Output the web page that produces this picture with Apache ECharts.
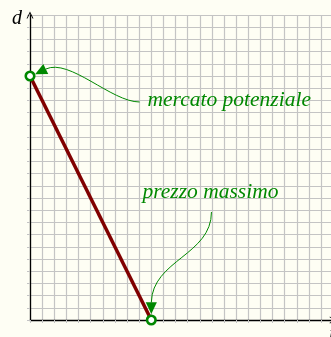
<!DOCTYPE html>
<html>
<head>
<meta charset="utf-8">
<script src="https://cdn.jsdelivr.net/npm/echarts@6/dist/echarts.min.js"></script>
<style>
  html, body { margin: 0; padding: 0; background: #fefef4; }
  #chart { width: 331px; height: 337px; }
</style>
</head>
<body>
<div id="chart"></div>
<script>
// Linear demand: quantity d falls from the potential market to zero at the maximum price
const priceValues = [0, 10];
const demandValues = [20, 0];
const axisMax = 25;
const axisNames = ['p', 'd'];
const noteTexts = ['mercato potenziale', 'prezzo massimo'];

const GREEN = '#008800';
const GRID_GRAY = '#c4c4c4';
const SERIF = '"Liberation Serif", "DejaVu Serif", serif';

// Callout geometry in axis units: bezier from the label towards the point, arrow tip, label anchor
const notes = [
  {
    curve: [[9.03, 17.87], [6.72, 17.87], [3.26, 21.48], [1.3, 20.57]],
    tip: [0.42, 20.14],
    label: [9.69, 18.0]
  },
  {
    curve: [[14.96, 8.85], [14.96, 5.33], [10.1, 4.92], [10.0, 1.45]],
    tip: [10.0, 0.5],
    label: [9.27, 10.45]
  }
];

const arrowPath = 'path://M0,10 L5,0 L10,10 L8.6,10 L5,2.8 L1.4,10 Z';

const chart = echarts.init(document.getElementById('chart'), null, { renderer: 'canvas' });

function renderNote(params, api) {
  const n = notes[params.dataIndex];
  const p = n.curve.map(c => api.coord(c));
  const tip = api.coord(n.tip);
  const base = p[3];
  const dx = tip[0] - base[0], dy = tip[1] - base[1];
  const len = Math.sqrt(dx * dx + dy * dy) || 1;
  const nx = -dy / len, ny = dx / len;
  const hw = 5.6;
  const lab = api.coord(n.label);
  return {
    type: 'group',
    children: [
      {
        type: 'bezierCurve',
        shape: { x1: p[0][0], y1: p[0][1], cpx1: p[1][0], cpy1: p[1][1], cpx2: p[2][0], cpy2: p[2][1], x2: p[3][0], y2: p[3][1] },
        style: { stroke: GREEN, lineWidth: 1, fill: null }
      },
      {
        type: 'polygon',
        shape: { points: [tip, [base[0] + nx * hw, base[1] + ny * hw], [base[0] - nx * hw, base[1] - ny * hw]] },
        style: { fill: GREEN }
      },
      {
        type: 'text',
        x: lab[0], y: lab[1],
        style: {
          text: noteTexts[params.dataIndex],
          fill: GREEN,
          font: 'italic 21.5px ' + SERIF,
          align: 'left',
          verticalAlign: 'middle'
        }
      }
    ]
  };
}

const option = {
  animation: false,
  backgroundColor: '#fefef4',
  grid: { left: 30, top: 15, width: 303.25, height: 305, containLabel: false, outerBoundsMode: 'none' },
  xAxis: {
    type: 'value', min: 0, max: axisMax, interval: 1,
    name: axisNames[0], nameLocation: 'end', nameGap: -4,
    nameTextStyle: { fontFamily: SERIF, fontStyle: 'italic', fontSize: 19, color: '#000', align: 'left', verticalAlign: 'top', padding: [4, 0, 0, 0] },
    axisLine: { show: true, onZero: false, symbol: ['none', arrowPath], symbolSize: [7, 8], lineStyle: { color: '#000', width: 1.3 } },
    axisTick: { show: true, inside: false, length: 3, lineStyle: { color: GRID_GRAY, width: 1 } },
    axisLabel: { show: false },
    splitLine: { show: true, lineStyle: { color: GRID_GRAY, width: 1.2 } }
  },
  yAxis: {
    type: 'value', min: 0, max: axisMax, interval: 1,
    name: axisNames[1], nameLocation: 'end', nameGap: -4,
    nameTextStyle: { fontFamily: SERIF, fontStyle: 'italic', fontSize: 20, color: '#000', align: 'right', verticalAlign: 'middle', padding: [0, 8, 0, 0] },
    axisLine: { show: true, onZero: false, symbol: ['none', arrowPath], symbolSize: [7, 8], lineStyle: { color: '#000', width: 1.3 } },
    axisTick: { show: true, inside: false, length: 3, lineStyle: { color: GRID_GRAY, width: 1 } },
    axisLabel: { show: false },
    splitLine: { show: true, lineStyle: { color: GRID_GRAY, width: 1.2 } }
  },
  series: [
    {
      type: 'line',
      data: priceValues.map((p, i) => [p, demandValues[i]]),
      showSymbol: false,
      lineStyle: { color: '#800000', width: 3.5 },
      z: 3
    },
    {
      type: 'custom',
      coordinateSystem: 'cartesian2d',
      data: noteTexts.map((t, i) => [i, 0]),
      renderItem: renderNote,
      clip: false,
      silent: true,
      z: 4
    },
    {
      type: 'scatter',
      data: priceValues.map((p, i) => [p, demandValues[i]]),
      symbol: 'circle',
      symbolSize: 8.5,
      itemStyle: { color: '#ffffff', borderColor: GREEN, borderWidth: 2.6, opacity: 1 },
      z: 5
    }
  ]
};

chart.setOption(option);
</script>
</body>
</html>
